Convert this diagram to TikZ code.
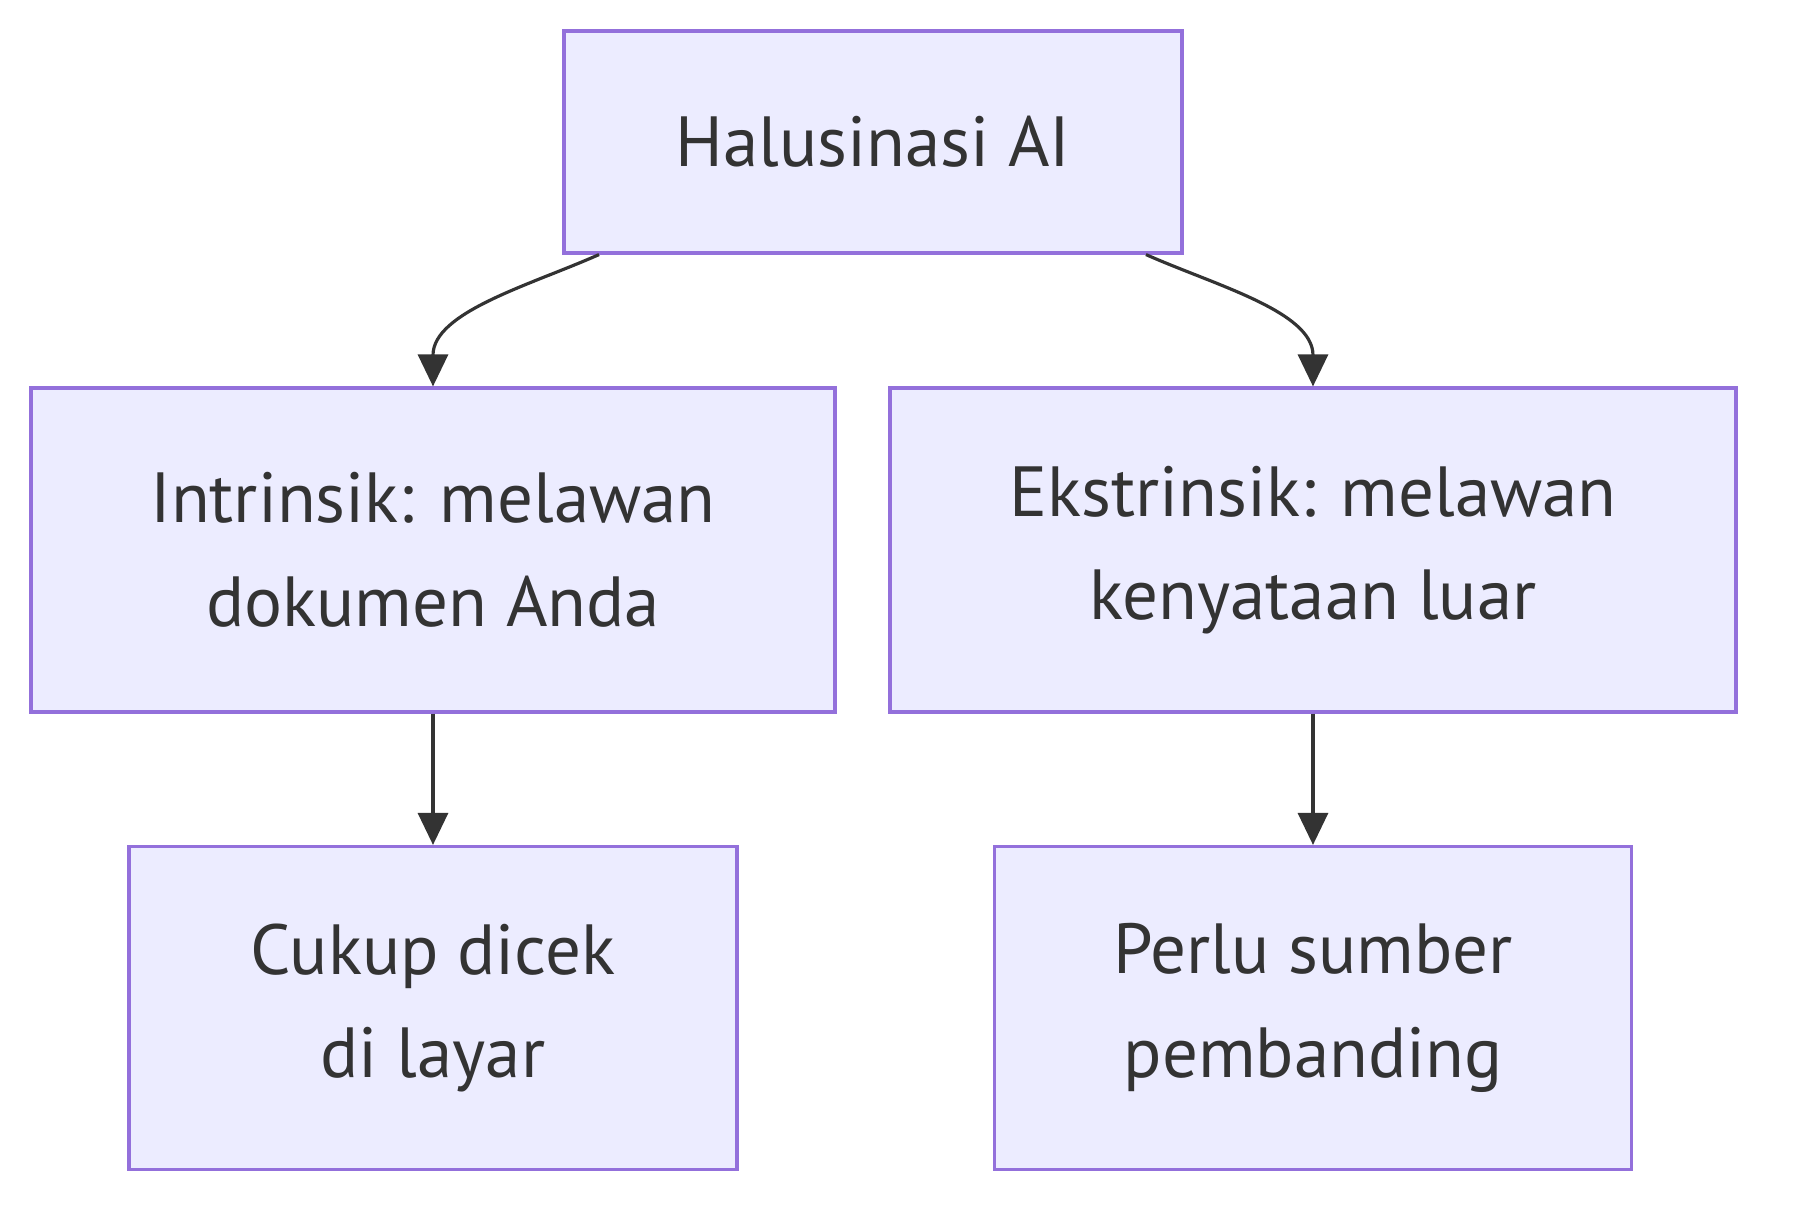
\documentclass[tikz,border=0pt]{standalone}
\usepackage{fontspec}
\setmainfont{PT Sans}
\usepackage{tikz}
\usetikzlibrary{positioning, arrows.meta}
\definecolor{boxfill}{HTML}{ECECFF}
\definecolor{boxline}{HTML}{9370DB}
\definecolor{ink}{HTML}{333333}
\tikzset{
    box/.style={draw=boxline, fill=boxfill, line width=0.9pt, align=center, text=ink,
        font=\fontsize{20.2}{29.5}\selectfont, inner sep=0pt},
    link/.style={draw=ink, line width=0.9pt, -{Triangle[length=0.32cm, width=0.3cm]}}
}

\begin{document}
\begin{tikzpicture}
\useasboundingbox (0,0) rectangle (18,-12.24);
    % ---- root
    \node[box, minimum width=6.18cm, minimum height=2.22cm] (halu) at (8.73,-1.42) {Halusinasi AI};
    % ---- two kinds
    \node[box, minimum width=8.04cm, minimum height=3.24cm] (intr) at (4.33,-5.50) {Intrinsik: melawan\\dokumen Anda};
    \node[box, minimum width=8.46cm, minimum height=3.24cm] (ekstr) at (13.13,-5.50) {Ekstrinsik: melawan\\kenyataan luar};
    % ---- what to do
    \node[box, minimum width=6.08cm, minimum height=3.23cm] (cek) at (4.33,-10.08) {Cukup dicek\\di layar};
    \node[box, minimum width=6.37cm, minimum height=3.23cm] (sumber) at (13.13,-10.08) {Perlu sumber\\pembanding};
    % ---- connectors
    \draw[link] ([xshift=-2.74cm]halu.south) to[out=-156, in=90, looseness=0.9] (intr.north);
    \draw[link] ([xshift=2.73cm]halu.south) to[out=-24, in=90, looseness=0.9] (ekstr.north);
    \draw[link] (intr) -- (cek);
    \draw[link] (ekstr) -- (sumber);
\end{tikzpicture}
\end{document}
